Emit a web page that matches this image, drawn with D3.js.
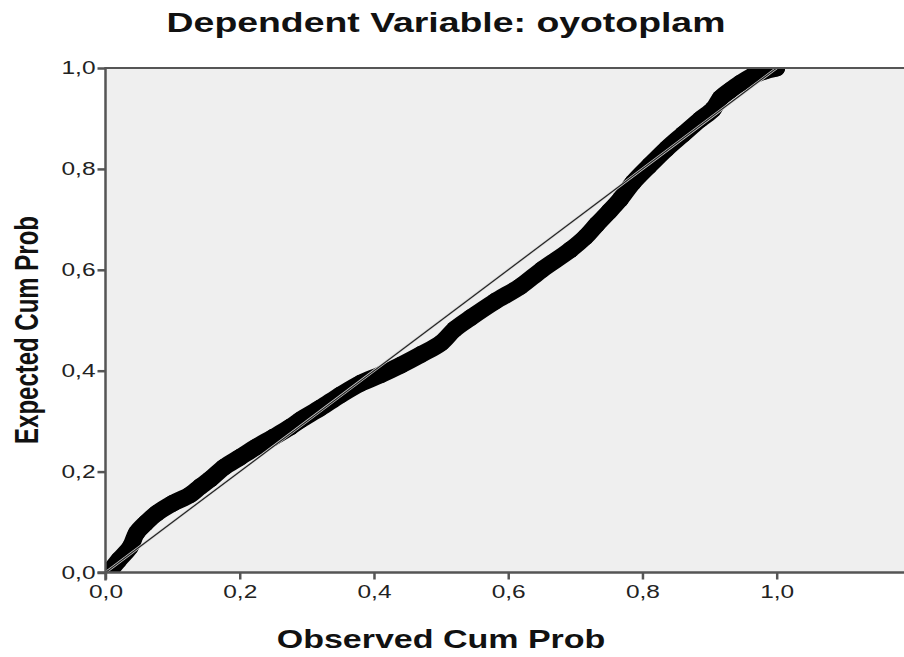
<!DOCTYPE html>
<html lang="en">
<head>
    <meta charset="UTF-8">
    <title>Normal P-P Plot</title>
    <script src="https://d3js.org/d3.v7.min.js"></script>
    <style>
        body {
            margin: 0;
            background: #fff;
            font-family: "Liberation Sans", Arial, sans-serif;
        }
        svg { display: block; }
    </style>
</head>
<body>
    <div id="chart"></div>

    <script>
        // Points (observed vs expected cumulative prob)
        const observed = [0.000, 0.007, 0.020, 0.037, 0.046, 0.060, 0.076, 0.100, 0.126, 0.141,
                          0.156, 0.176, 0.200, 0.225, 0.250, 0.275, 0.290, 0.320, 0.350, 0.380,
                          0.410, 0.440, 0.470, 0.500, 0.520, 0.544, 0.580, 0.618, 0.650, 0.692,
                          0.715, 0.732, 0.750, 0.767, 0.786, 0.810, 0.836, 0.860, 0.886, 0.905,
                          0.916, 0.930, 0.946, 0.965, 0.980, 1.000];
        const expected = [0.000, 0.005, 0.025, 0.051, 0.078, 0.098, 0.117, 0.137, 0.154, 0.170,
                          0.185, 0.208, 0.228, 0.249, 0.268, 0.288, 0.302, 0.326, 0.352, 0.375,
                          0.392, 0.411, 0.432, 0.455, 0.482, 0.505, 0.537, 0.567, 0.600, 0.639,
                          0.665, 0.690, 0.715, 0.740, 0.773, 0.806, 0.840, 0.868, 0.898, 0.918,
                          0.940, 0.955, 0.970, 0.985, 0.993, 1.000];
        const tickValues = [0, 0.2, 0.4, 0.6, 0.8, 1.0];
        const tickLabels = ["0,0", "0,2", "0,4", "0,6", "0,8", "1,0"];

        const width = 904, height = 657;
        const stretch = 1.36;   // picture's text is stretched sideways

        const x = d3.scaleLinear().domain([0, 1]).range([105.5, 776.7]);
        const y = d3.scaleLinear().domain([0, 1]).range([572.5, 68]);
        const plotRight = width;

        const svg = d3.select("#chart").append("svg")
            .attr("width", width)
            .attr("height", height);

        svg.append("defs").append("clipPath").attr("id", "plotclip")
            .append("rect")
            .attr("x", x(0)).attr("y", y(1))
            .attr("width", plotRight - x(0)).attr("height", y(0) - y(1));

        // plot background
        svg.append("rect")
            .attr("x", x(0)).attr("y", y(1))
            .attr("width", plotRight - x(0)).attr("height", y(0) - y(1))
            .attr("fill", "#efefef");

        const points = observed.map((d, i) => [d, expected[i]]);
        const plot = svg.append("g").attr("clip-path", "url(#plotclip)");

        // thick marker band
        plot.append("path")
            .datum(points)
            .attr("d", d3.line().x(d => x(d[0])).y(d => y(d[1])).curve(d3.curveCatmullRom))
            .attr("fill", "none")
            .attr("stroke", "#000")
            .attr("stroke-width", 17)
            .attr("stroke-linejoin", "round")
            .attr("stroke-linecap", "round");

        plot.selectAll("circle")
            .data(points)
            .enter()
            .append("circle")
            .attr("cx", d => x(d[0]))
            .attr("cy", d => y(d[1]))
            .attr("r", 8.5)
            .attr("fill", "#000");

        // reference diagonal on top
        plot.append("line")
            .attr("x1", x(0)).attr("y1", y(0)).attr("x2", x(1)).attr("y2", y(1))
            .attr("stroke", "#d8d8d8").attr("stroke-width", 2.6);
        plot.append("line")
            .attr("x1", x(0)).attr("y1", y(0)).attr("x2", x(1)).attr("y2", y(1))
            .attr("stroke", "#222").attr("stroke-width", 1.2);

        // frame lines
        svg.append("line")
            .attr("x1", x(0)).attr("x2", plotRight).attr("y1", y(1)).attr("y2", y(1))
            .attr("stroke", "#555").attr("stroke-width", 2);

        const xAxis = d3.axisBottom(x).tickValues(tickValues)
            .tickFormat((d, i) => tickLabels[i]).tickSize(7).tickPadding(6);
        const yAxis = d3.axisLeft(y).tickValues(tickValues)
            .tickFormat((d, i) => tickLabels[i]).tickSize(8).tickPadding(3);

        const gx = svg.append("g").attr("transform", `translate(0,${y(0)})`).call(xAxis);
        const gy = svg.append("g").attr("transform", `translate(${x(0)},0)`).call(yAxis);

        [gx, gy].forEach(g => {
            g.select(".domain").remove();
            g.selectAll(".tick line").attr("stroke", "#555").attr("stroke-width", 2.5);
            g.selectAll(".tick text")
                .attr("fill", "#222")
                .style("font-size", "18px")
                .style("font-family", "'Liberation Sans', Arial, sans-serif");
        });

        // stretch tick labels sideways like the picture
        gx.selectAll(".tick text").attr("transform", `scale(${stretch},1)`)
            .attr("dy", "0.71em");
        gy.selectAll(".tick text").each(function() {
            const t = d3.select(this);
            t.attr("text-anchor", "end")
             .attr("transform", `translate(-10,0) scale(${stretch},1)`)
             .attr("x", 0);
        });

        svg.append("line")
            .attr("x1", x(0)).attr("x2", x(0)).attr("y1", y(1) - 1).attr("y2", y(0) + 8)
            .attr("stroke", "#555").attr("stroke-width", 2.5);
        svg.append("line")
            .attr("x1", x(0) - 8).attr("x2", plotRight).attr("y1", y(0)).attr("y2", y(0))
            .attr("stroke", "#555").attr("stroke-width", 2.5);

        // titles
        svg.append("text")
            .attr("transform", `translate(446,32) scale(${stretch},1)`)
            .attr("text-anchor", "middle")
            .style("font-size", "27.5px")
            .style("font-weight", "bold")
            .attr("fill", "#111")
            .text("Dependent Variable: oyotoplam");

        svg.append("text")
            .attr("transform", `translate(441,648) scale(${stretch},1)`)
            .attr("text-anchor", "middle")
            .style("font-size", "25px")
            .style("font-weight", "bold")
            .attr("fill", "#111")
            .text("Observed Cum Prob");

        svg.append("text")
            .attr("transform", `translate(38,330) scale(${stretch},1) rotate(-90)`)
            .attr("text-anchor", "middle")
            .style("font-size", "24px")
            .style("font-weight", "bold")
            .attr("fill", "#111")
            .text("Expected Cum Prob");
    </script>
</body>
</html>
